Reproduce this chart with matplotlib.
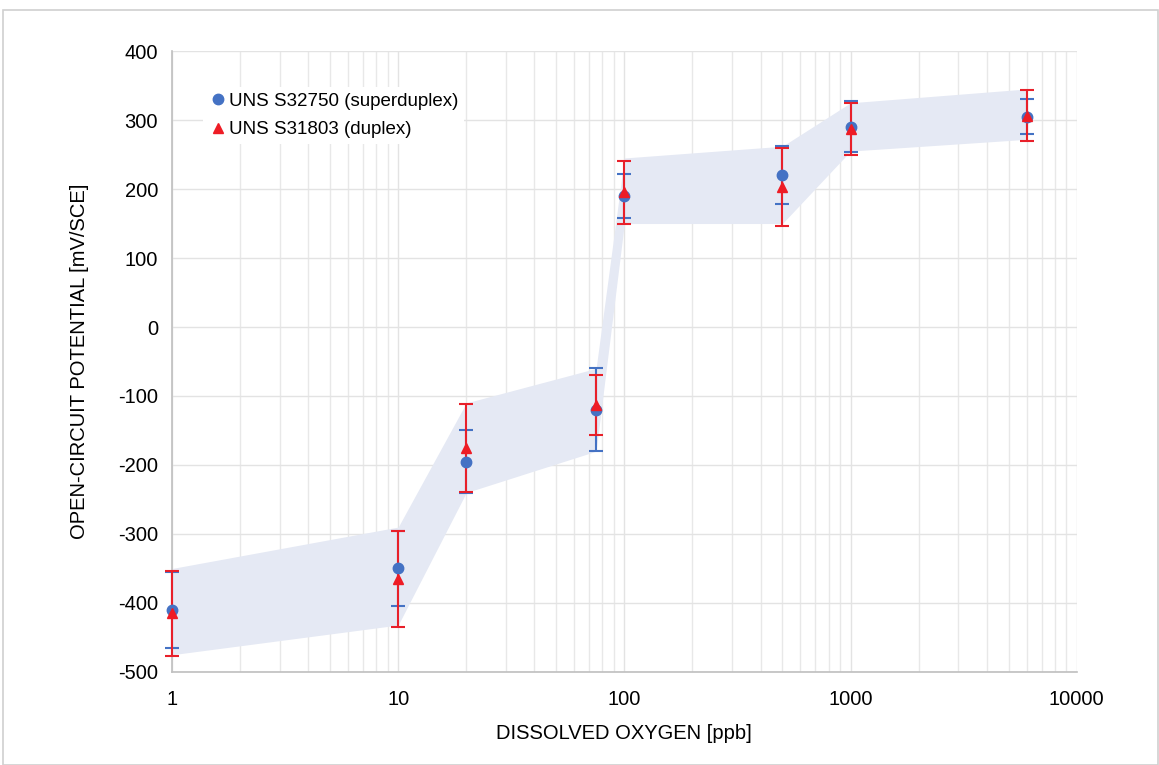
import matplotlib.pyplot as plt
import matplotlib.patches as mpatches
from matplotlib.ticker import FixedLocator, LogLocator, NullFormatter

plt.rcParams['font.family'] = ['Liberation Sans', 'DejaVu Sans']
plt.rcParams['axes.unicode_minus'] = False

# dissolved oxygen levels [ppb]
do_ppb = [1, 10, 20, 75, 100, 500, 1000, 6000]

# UNS S32750 (superduplex)
sd_ocp = [-410, -350, -195, -120, 190, 220, 290, 305]
sd_err = [55, 55, 45, 60, 32, 42, 37, 25]

# UNS S31803 (duplex)
dx_ocp = [-415, -365, -175, -113, 195, 203, 287, 306]
dx_err = [62, 70, 64, 43, 46, 57, 37, 37]

# shaded scatter band
band_hi = [-350, -290, -110, -60, 245, 262, 325, 345]
band_lo = [-475, -432, -240, -180, 150, 150, 255, 272]

fig = plt.figure(figsize=(11.59, 7.65), dpi=100)
ax = fig.add_axes([0.1484, 0.1216, 0.7806, 0.8117])

# light frame around the whole picture
fig.patches.append(mpatches.Rectangle((0.003, 0.0), 0.996, 0.987, transform=fig.transFigure,
                                      fill=False, edgecolor='#D0D0D0', linewidth=1.2))

ax.fill_between(do_ppb, band_lo, band_hi, color='#E5E9F4', linewidth=0, zorder=1)

eb1 = ax.errorbar(do_ppb, sd_ocp, yerr=sd_err, fmt='none', ecolor='#4472C4', elinewidth=1.5,
                  capsize=5, capthick=1.5, zorder=3)
eb2 = ax.errorbar(do_ppb, dx_ocp, yerr=dx_err, fmt='none', ecolor='#E8202A', elinewidth=1.5,
                  capsize=5, capthick=1.5, zorder=4)
for eb in (eb1, eb2):
    for art in eb.lines[1] + eb.lines[2]:
        art.set_clip_on(False)
ax.plot(do_ppb, sd_ocp, 'o', color='#4472C4', markersize=7.5, zorder=5, clip_on=False,
        label='UNS S32750 (superduplex)')
ax.plot(do_ppb, dx_ocp, '^', color='#EE1C25', markersize=7.5, zorder=6, clip_on=False,
        label='UNS S31803 (duplex)')

ax.set_xscale('log')
ax.set_xlim(1, 10000)
ax.set_ylim(-500, 400)
ax.xaxis.set_major_locator(FixedLocator([1, 10, 100, 1000, 10000]))
ax.set_xticklabels(['1', '10', '100', '1000', '10000'])
ax.xaxis.set_minor_locator(LogLocator(base=10, subs=range(2, 10)))
ax.xaxis.set_minor_formatter(NullFormatter())
ax.set_yticks(range(-500, 401, 100))

ax.grid(which='major', color='#E3E3E3', linewidth=1, zorder=0)
ax.grid(which='minor', axis='x', color='#E8E8E8', linewidth=1, zorder=0)
ax.set_axisbelow(True)
ax.tick_params(which='both', length=0, labelsize=14.5, colors='#000000')
ax.tick_params(axis='x', pad=13)
ax.tick_params(axis='y', pad=10)

for s in ['top', 'right']:
    ax.spines[s].set_visible(False)
for s in ['left', 'bottom']:
    ax.spines[s].set_color('#BFBFBF')
    ax.spines[s].set_linewidth(1.2)

ax.set_xlabel('DISSOLVED OXYGEN [ppb]', fontsize=14.5, labelpad=11)
ax.set_ylabel('OPEN-CIRCUIT POTENTIAL [mV/SCE]', fontsize=14.5, labelpad=21)

ax.legend(loc='upper left', bbox_to_anchor=(0.024, 0.957), frameon=True, facecolor='white',
          edgecolor='none', framealpha=1, fontsize=13.5, handletextpad=0.1,
          handlelength=1.0, borderpad=0.3, labelspacing=0.6)

fig.savefig('out.png', dpi=100)
